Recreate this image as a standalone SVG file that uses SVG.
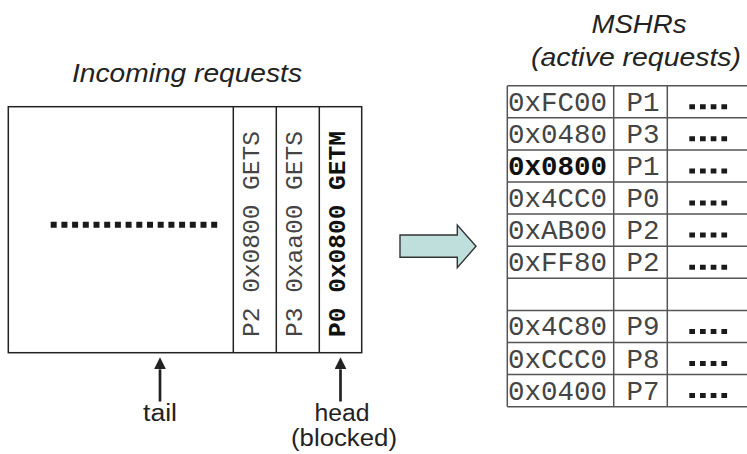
<svg xmlns="http://www.w3.org/2000/svg" width="747" height="454" viewBox="0 0 747 454">
  <defs>
    <style>
      .title { font-family: "Liberation Sans", Arial, sans-serif; font-style: italic; font-size: 25px; fill: #222; }
      .label { font-family: "Liberation Sans", Arial, sans-serif; font-size: 23px; fill: #222; }
      .mono { font-family: "Liberation Mono", "Courier New", monospace; fill: #444; }
      .qtxt { font-size: 24.5px; }
      .ttxt { font-size: 27.5px; }
      .bold { font-weight: bold; fill: #111; }
      .qline { fill: none; stroke: #222; stroke-width: 1.5; }
      .tline { fill: none; stroke: #555; stroke-width: 1.5; }
      .dots { fill: none; stroke: #1a1a1a; stroke-width: 6; stroke-dasharray: 6 4.7; }
      .tdots { fill: none; stroke: #1a1a1a; stroke-width: 5; stroke-dasharray: 5.7 5; }
      .ptr { fill: none; stroke: #222; stroke-width: 2.7; marker-end: url(#tip); }
    </style>
    <marker id="tip" viewBox="0 0 12 12" markerUnits="userSpaceOnUse" markerWidth="12" markerHeight="12" refX="0" refY="6" orient="auto">
      <path d="M0,0 L12,6 L0,12 z" fill="#222"/>
    </marker>
  </defs>

  <!-- headings -->
  <text class="title" x="187" y="81.5" text-anchor="middle" textLength="230" lengthAdjust="spacingAndGlyphs">Incoming requests</text>
  <text class="title" x="639" y="33" text-anchor="middle" textLength="95" lengthAdjust="spacingAndGlyphs">MSHRs</text>
  <text class="title" x="636" y="66" text-anchor="middle" textLength="210" lengthAdjust="spacingAndGlyphs">(active requests)</text>

  <!-- request queue -->
  <g id="queue">
    <rect class="qline" x="8.3" y="106.7" width="353.4" height="246"/>
    <line class="qline" x1="233.3" y1="106.7" x2="233.3" y2="352.7"/>
    <line class="qline" x1="276.3" y1="106.7" x2="276.3" y2="352.7"/>
    <line class="qline" x1="319.3" y1="106.7" x2="319.3" y2="352.7"/>
    <line class="dots" x1="50.7" y1="224.7" x2="217.3" y2="224.7"/>
    <text class="mono qtxt" text-anchor="middle" transform="translate(258.5,234) rotate(-90)">P2 0x0800 GETS</text>
    <text class="mono qtxt" text-anchor="middle" transform="translate(301.5,234) rotate(-90)">P3 0xaa00 GETS</text>
    <text class="mono qtxt bold" text-anchor="middle" transform="translate(345,234) rotate(-90)">P0 0x0800 GETM</text>
  </g>

  <!-- miss status holding registers -->
  <g id="mshr">
    <line class="tline" x1="507.3" y1="85.7" x2="507.3" y2="406.7"/>
    <line class="tline" x1="613.7" y1="85.7" x2="613.7" y2="406.7"/>
    <line class="tline" x1="667.3" y1="85.7" x2="667.3" y2="406.7"/>
    <line class="tline" x1="507.3" y1="85.7" x2="747" y2="85.7"/>
    <line class="tline" x1="507.3" y1="117.8" x2="747" y2="117.8"/>
    <line class="tline" x1="507.3" y1="149.9" x2="747" y2="149.9"/>
    <line class="tline" x1="507.3" y1="182" x2="747" y2="182"/>
    <line class="tline" x1="507.3" y1="214.1" x2="747" y2="214.1"/>
    <line class="tline" x1="507.3" y1="246.2" x2="747" y2="246.2"/>
    <line class="tline" x1="507.3" y1="278.3" x2="747" y2="278.3"/>
    <line class="tline" x1="507.3" y1="310.4" x2="747" y2="310.4"/>
    <line class="tline" x1="507.3" y1="342.5" x2="747" y2="342.5"/>
    <line class="tline" x1="507.3" y1="374.6" x2="747" y2="374.6"/>
    <line class="tline" x1="507.3" y1="406.7" x2="747" y2="406.7"/>

    <g class="mono ttxt">
      <text x="508" y="110.7">0xFC00</text>
      <text x="508" y="142.8">0x0480</text>
      <text x="508" y="174.9" class="bold">0x0800</text>
      <text x="508" y="207">0x4CC0</text>
      <text x="508" y="239.1">0xAB00</text>
      <text x="508" y="271.2">0xFF80</text>
      <text x="508" y="335.4">0x4C80</text>
      <text x="508" y="367.5">0xCCC0</text>
      <text x="508" y="399.6">0x0400</text>
    </g>
    <g class="mono ttxt" text-anchor="middle">
      <text x="643" y="110.7">P1</text>
      <text x="643" y="142.8">P3</text>
      <text x="643" y="174.9">P1</text>
      <text x="643" y="207">P0</text>
      <text x="643" y="239.1">P2</text>
      <text x="643" y="271.2">P2</text>
      <text x="643" y="335.4">P9</text>
      <text x="643" y="367.5">P8</text>
      <text x="643" y="399.6">P7</text>
    </g>
    <line class="tdots" x1="689.3" y1="106.7" x2="727.1" y2="106.7"/>
    <line class="tdots" x1="689.3" y1="138.8" x2="727.1" y2="138.8"/>
    <line class="tdots" x1="689.3" y1="170.9" x2="727.1" y2="170.9"/>
    <line class="tdots" x1="689.3" y1="203" x2="727.1" y2="203"/>
    <line class="tdots" x1="689.3" y1="235.1" x2="727.1" y2="235.1"/>
    <line class="tdots" x1="689.3" y1="267.2" x2="727.1" y2="267.2"/>
    <line class="tdots" x1="689.3" y1="331.4" x2="727.1" y2="331.4"/>
    <line class="tdots" x1="689.3" y1="363.5" x2="727.1" y2="363.5"/>
    <line class="tdots" x1="689.3" y1="395.6" x2="727.1" y2="395.6"/>
  </g>

  <!-- queue pointers and transfer arrow -->
  <g id="connectors">
    <line class="ptr" x1="160" y1="401.5" x2="160" y2="369.3"/>
    <line class="ptr" x1="340.5" y1="401.5" x2="340.5" y2="369.3"/>
    <polygon points="400,235 457.3,235 457.3,225 476,246.2 457.3,267.7 457.3,257.3 400,257.3" fill="#bfdfdd" stroke="#333" stroke-width="1.4" stroke-linejoin="miter"/>
  </g>

  <g id="tail-label">
    <text class="label" x="160" y="421" text-anchor="middle" textLength="34" lengthAdjust="spacingAndGlyphs">tail</text>
  </g>
  <g id="head-label">
    <text class="label" x="342" y="421" text-anchor="middle" textLength="55" lengthAdjust="spacingAndGlyphs">head</text>
    <text class="label" x="344" y="446" text-anchor="middle" textLength="106" lengthAdjust="spacingAndGlyphs">(blocked)</text>
  </g>
</svg>
